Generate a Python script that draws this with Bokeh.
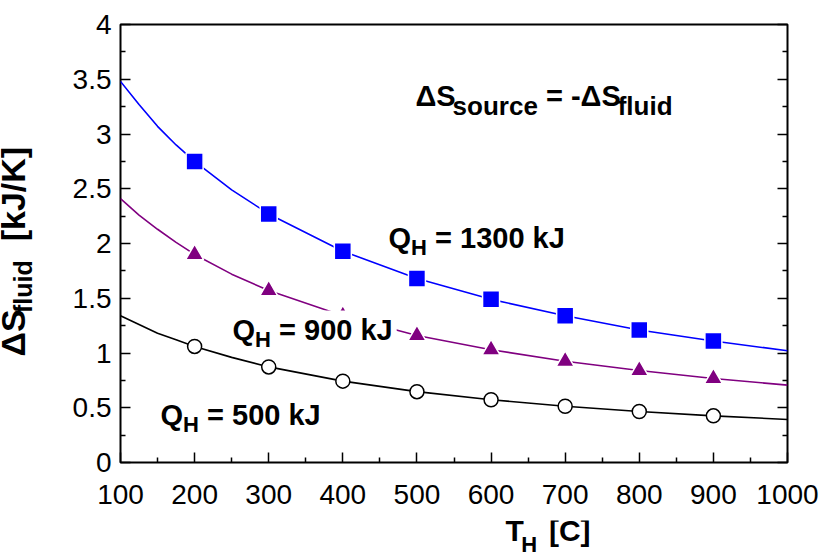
import math
from bokeh.plotting import figure
from bokeh.layouts import row, column
from bokeh.models import Range1d, LinearAxis, Label, FixedTicker, CustomJSTickFormatter
from bokeh.core.properties import value
from bokeh.embed import file_html
from bokeh.resources import INLINE

# ---------------- data ----------------
t_line = [100, 125, 150, 175, 200, 250, 300, 400, 500, 600, 700, 800, 900, 1000]
ds_1300_line = [3.48, 3.27, 3.07, 2.90, 2.75, 2.49, 2.27, 1.93, 1.68, 1.49, 1.34, 1.21, 1.11, 1.02]
ds_900_line = [2.41, 2.26, 2.13, 2.01, 1.90, 1.72, 1.57, 1.34, 1.16, 1.03, 0.925, 0.84, 0.767, 0.707]
ds_500_line = [1.34, 1.26, 1.18, 1.12, 1.06, 0.96, 0.873, 0.743, 0.647, 0.573, 0.514, 0.466, 0.426, 0.393]

t_mark = [200, 300, 400, 500, 600, 700, 800, 900]
ds_1300_mark = [2.75, 2.27, 1.93, 1.68, 1.49, 1.34, 1.21, 1.11]
ds_900_mark = [1.90, 1.57, 1.34, 1.16, 1.03, 0.925, 0.84, 0.767]
ds_500_mark = [1.06, 0.873, 0.743, 0.647, 0.573, 0.514, 0.466, 0.426]

x_ticks = [100, 200, 300, 400, 500, 600, 700, 800, 900, 1000]
x_minor = [150, 250, 350, 450, 550, 650, 750, 850, 950]
y_ticks = [0, 0.5, 1, 1.5, 2, 2.5, 3, 3.5, 4]
y_tick_labels = ["0", "0.5", "1", "1.5", "2", "2.5", "3", "3.5", "4"]
y_minor = [0.25, 0.75, 1.25, 1.75, 2.25, 2.75, 3.25, 3.75]

FONT = "Liberation Sans"
TOTAL_W, TOTAL_H = 823, 552
YLAB_W = 40            # left strip holding the y title
XLAB_H = 32            # bottom strip holding the x title
FX0, FX1, FY0, FY1 = 120, 787, 24, 462   # frame on the page, px
MAIN_W, MAIN_H = TOTAL_W - YLAB_W, TOTAL_H - XLAB_H
K_LABEL = 0.345        # baseline correction for Label annotations (em)
K_GLYPH = 0.43         # baseline correction for text glyphs (em)

# ---------------- main figure ----------------
p = figure(width=MAIN_W, height=MAIN_H, output_backend="svg",
           toolbar_location=None, title_location=None,
           x_range=Range1d(100, 1000), y_range=Range1d(0, 4),
           min_border_left=FX0 - YLAB_W, min_border_right=TOTAL_W - FX1,
           min_border_top=FY0, min_border_bottom=MAIN_H - FY1,
           x_axis_location=None, y_axis_location=None)
p.xgrid.visible = False
p.ygrid.visible = False
p.outline_line_color = "black"
p.outline_line_width = 2
p.background_fill_color = "white"
p.border_fill_color = "white"

def style_axis(ax, show_labels=True):
    ax.axis_line_color = None
    ax.major_tick_in = 10
    ax.major_tick_out = 0
    ax.minor_tick_in = 5
    ax.minor_tick_out = 0
    ax.major_tick_line_width = 1.5
    ax.minor_tick_line_width = 1.5
    ax.major_label_text_font = FONT
    ax.major_label_text_font_size = "28px"
    ax.major_label_text_color = "black"
    if not show_labels:
        ax.formatter = CustomJSTickFormatter(code="return ''")

xb = LinearAxis(ticker=FixedTicker(ticks=x_ticks, minor_ticks=x_minor))
style_axis(xb)
xb.major_label_standoff = 22
p.add_layout(xb, "below")

yl = LinearAxis(ticker=FixedTicker(ticks=y_ticks, minor_ticks=y_minor))
style_axis(yl)
yl.major_label_standoff = 9
yl.major_label_overrides = {t: s for t, s in zip(y_ticks, y_tick_labels)}
p.add_layout(yl, "left")

yr = LinearAxis(ticker=FixedTicker(ticks=y_ticks, minor_ticks=y_minor))
style_axis(yr, show_labels=False)
p.add_layout(yr, "right")

# ---------------- series ----------------
p.line(t_line, ds_1300_line, line_color="#0000FF", line_width=1.6)
p.line(t_line, ds_900_line, line_color="#800080", line_width=1.6)
p.line(t_line, ds_500_line, line_color="black", line_width=1.6)

p.scatter(t_mark, ds_1300_mark, marker="square", size=17, fill_color="#0000FF",
          line_color="white", line_width=1.5)
p.scatter(t_mark, ds_900_mark, marker="triangle", size=18, fill_color="#800080",
          line_color="white", line_width=1.5)
p.scatter(t_mark, ds_500_mark, marker="circle", size=14, fill_color="white",
          line_color="black", line_width=1.5)

# ---------------- text helpers ----------------
def dx(px):
    return 100 + (px - FX0) * 900.0 / (FX1 - FX0)

def dy(py):
    return (FY1 - py) * 4.0 / (FY1 - FY0)

WID = {"Q": .778, "H": .722, " ": .278, "=": .584, "0": .556, "1": .556, "3": .556,
       "5": .556, "9": .556, "k": .556, "J": .556, "Δ": .612, "S": .667, "s": .556,
       "o": .611, "u": .611, "r": .389, "c": .556, "e": .556, "f": .333, "l": .278,
       "i": .278, "d": .611, "-": .333, "T": .611, "[": .333, "]": .333, "C": .722,
       "K": .722, "/": .278}

def width(txt, size):
    return sum(WID.get(ch, .6) for ch in txt) * size

def split_lead(txt, size):
    """SVG drops leading blanks, so turn them into an x advance."""
    stripped = txt.lstrip(" ")
    return stripped, width(txt[:len(txt) - len(stripped)], size)

def rich(px, py, parts, bg=None):
    """parts: list of (text, size, baseline_drop_px), placed as Labels in the plot frame"""
    x = px
    n = len(parts)
    for i, (txt, size, drop) in enumerate(parts):
        txt, lead = split_lead(txt, size)
        x += lead
        pad = 4 if (bg and i == n - 1) else 0
        lab = Label(x=dx(x - pad), y=dy(py + drop - K_LABEL * size), text=txt,
                    text_font=FONT, text_font_size=f"{size}px", text_font_style="bold",
                    text_color="black", text_align="left", text_baseline="alphabetic")
        if bg:
            lab.background_fill_color = bg
            if pad:
                lab.padding = pad
        p.add_layout(lab)
        x += width(txt, size)

# in-plot annotations
rich(415, 106, [("ΔS", 29, 0), ("source", 26, 8), (" = -ΔS", 29, 0), ("fluid", 26, 8)])
rich(388, 248, [("Q", 29, 0), ("H", 22, 7), (" = 1300 kJ", 29, 0)])
rich(232, 340, [("Q", 29, 0), ("H", 22, 7), (" = 900 kJ", 29, 0)], bg="white")
rich(160, 425, [("Q", 29, 0), ("H", 22, 7), (" = 500 kJ", 29, 0)])

def strip(w, h, xr, yr):
    f = figure(width=w, height=h, output_backend="svg", toolbar_location=None,
               title_location=None,
               x_range=Range1d(*xr), y_range=Range1d(*yr), min_border=0,
               x_axis_location=None, y_axis_location=None)
    f.xgrid.visible = False
    f.ygrid.visible = False
    f.outline_line_color = None
    f.background_fill_color = "white"
    f.border_fill_color = "white"
    return f

# ---------------- x axis title strip (bottom), page px coordinates ----------------
b = strip(MAIN_W, XLAB_H, (YLAB_W, TOTAL_W), (0, XLAB_H))
x = 492
for txt, size, drop in [("T", 30, 0), ("H", 22, 10), ("  [C]", 30, 0)]:
    txt, lead = split_lead(txt, size)
    x += lead
    b.text(x=[x], y=[TOTAL_H - (543 + drop - K_GLYPH * size)], text=[txt],
           text_font=value(FONT), text_font_size=f"{size}px", text_font_style="bold",
           text_color="black", text_align="left", text_baseline="alphabetic")
    x += width(txt, size)

# ---------------- y axis title strip (left), page px coordinates ----------------
q = strip(YLAB_W, TOTAL_H, (0, YLAB_W), (0, TOTAL_H))
yy = 356
for txt, size, drop in [("ΔS", 34, 0), ("fluid", 25, 10), ("  [kJ/K]", 34, 0)]:
    txt, lead = split_lead(txt, size)
    yy -= lead
    q.text(x=[12 + drop], y=[TOTAL_H - yy], text=[txt], angle=math.pi / 2,
           text_font=value(FONT), text_font_size=f"{size}px", text_font_style="bold",
           text_color="black", text_align="left", text_baseline="alphabetic")
    yy -= width(txt, size)

layout = row(q, column(p, b, spacing=0), spacing=0)
open("out.html", "w").write(file_html(layout, INLINE))
